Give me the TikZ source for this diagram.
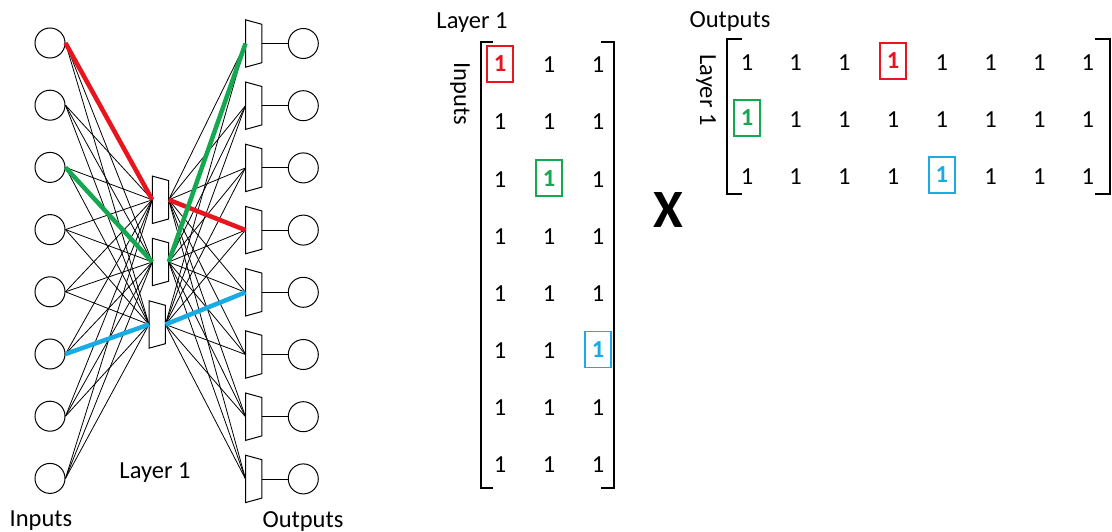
\documentclass[tikz,border=0pt]{standalone}
\usepackage{fontspec}
\setmainfont{Carlito}
\usetikzlibrary{positioning, calc}
\definecolor{linkred}{RGB}{232,20,30}
\definecolor{linkgreen}{RGB}{20,168,80}
\definecolor{linkblue}{RGB}{25,172,228}
\tikzset{
    % Node styles
    unit/.style={circle, draw, minimum size=30pt, inner sep=0pt, line width=1pt},
    mux/.style={rectangle, minimum width=16pt, minimum height=47pt, inner sep=0pt,
                append after command={\pgfextra{
                    \draw[line width=1pt] (\tikzlastnode.north west)
                    -- ($(\tikzlastnode.north east)+(0,4.5)$)
                    -- ($(\tikzlastnode.south east)+(0,-4.5)$)
                    -- (\tikzlastnode.south west) -- cycle;}}},
    % Connector styles
    link/.style={line width=0.8pt},
    hot link/.style={line width=4.5pt},
    % Text styles
    label/.style={font=\fontsize{24.5}{28}\selectfont, inner sep=0pt},
    entry/.style={label},
    hot entry/.style={label, draw=#1, text=#1, line width=1.8pt,
                      minimum width=26pt, minimum height=36pt,
                      font=\fontsize{24.5}{28}\selectfont\bfseries},
    bracket/.style={line width=2pt},
}

\begin{document}
\begin{tikzpicture}[x=1pt, y=-1pt]
    \useasboundingbox (0,0) rectangle (1112,532);

    % Network: inputs, layer 1, outputs
    \foreach \i in {1,...,8} {
        \node[unit] (in\i) at (50, {43+62.2*(\i-1)}) {};
        \node[mux] (mux\i) at (253.7, {43.5+62.2*(\i-1)}) {};
        \node[unit] (out\i) at (303.3, {43.5+62.2*(\i-1)}) {};
    }
    \node[mux] (hid1) at (160.5, 199.8) {};
    \node[mux] (hid2) at (160.5, 262) {};
    \node[mux] (hid3) at (157.2, 324.5) {};

    % All connections
    \foreach \i in {1,...,8} {
        \foreach \h in {1,2,3} {
            \draw[link] (in\i.east) -- (hid\h.west);
            \draw[link] (hid\h.east) -- (mux\i.west);
        }
        \draw[link] (mux\i.east) -- (out\i.west);
    }

    % Highlighted paths
    \draw[hot link, linkred] (in1.east) -- (hid1.west);
    \draw[hot link, linkred] (hid1.east) -- (mux4.west);
    \draw[hot link, linkgreen] (in3.east) -- (hid2.west);
    \draw[hot link, linkgreen] (hid2.east) -- (mux1.west);
    \draw[hot link, linkblue] (in6.east) -- (hid3.west);
    \draw[hot link, linkblue] (hid3.east) -- (mux5.west);

    \node[label] (inlabel) at (41, 521) {Inputs};
    \node[label] (hidlabel) at (155, 473) {Layer 1};
    \node[label] (outlabel) at (303, 522) {Outputs};

    % Weights inputs -> layer 1
    \node[label] (w1top) at (472, 23) {Layer 1};
    \node[label, rotate=-90] (w1side) at (460, 94) {Inputs};
    \foreach \r in {1,...,8} {
        \foreach \c in {1,2,3} {
            \ifnum\r\c=11 \else\ifnum\r\c=32 \else\ifnum\r\c=63 \else
                \node[entry] (w1-\r-\c) at ({500+49*(\c-1)}, {65+57.1*(\r-1)}) {1};
            \fi\fi\fi
        }
    }
    \foreach \r/\c/\col in {1/1/linkred, 3/2/linkgreen, 6/3/linkblue} {
        \node[hot entry=\col] (w1-\r-\c) at ({500+49*(\c-1)}, {64+57.1*(\r-1)}) {1};
    }
    \draw[bracket] (493,42) -- (481,42) -- (481,488) -- (493,488);
    \draw[bracket] (601,42) -- (614,42) -- (614,488) -- (601,488);

    \node[font=\fontsize{54}{60}\selectfont\bfseries, inner sep=0pt] (times) at (668, 210) {X};

    % Weights layer 1 -> outputs
    \node[label] (w2top) at (730, 22) {Outputs};
    \node[label, rotate=-90] (w2side) at (706, 90) {Layer 1};
    \foreach \r in {1,2,3} {
        \foreach \c in {1,...,8} {
            \ifnum\r\c=14 \else\ifnum\r\c=21 \else\ifnum\r\c=35 \else
                \node[entry] (w2-\r-\c) at ({747+48.7*(\c-1)}, {63+57*(\r-1)}) {1};
            \fi\fi\fi
        }
    }
    \foreach \r/\c/\col in {1/4/linkred, 2/1/linkgreen, 3/5/linkblue} {
        \node[hot entry=\col] (w2-\r-\c) at ({747+48.7*(\c-1)}, {61+57*(\r-1)}) {1};
    }
    \draw[bracket] (742,39) -- (727,39) -- (727,194) -- (742,194);
    \draw[bracket] (1095,39) -- (1110,39) -- (1110,194) -- (1095,194);
\end{tikzpicture}
\end{document}
